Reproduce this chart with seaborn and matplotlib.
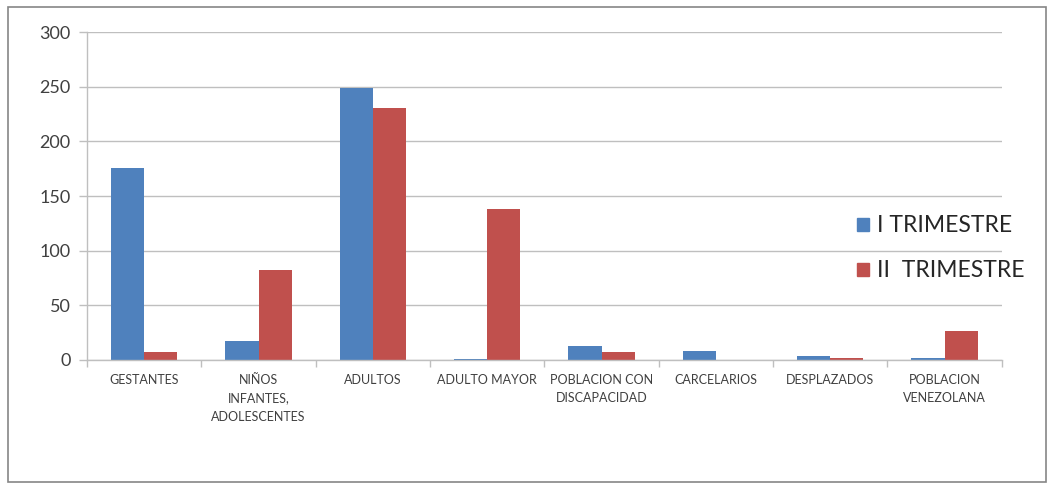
import pandas as pd
import seaborn as sns
import matplotlib.pyplot as plt
from matplotlib.patches import Rectangle

# Chart data
categories = ['GESTANTES', 'NIÑOS\nINFANTES,\nADOLESCENTES', 'ADULTOS', 'ADULTO MAYOR',
              'POBLACION CON\nDISCAPACIDAD', 'CARCELARIOS', 'DESPLAZADOS',
              'POBLACION\nVENEZOLANA']
trimestre_1 = [176, 17, 249, 1, 13, 8, 4, 2]
trimestre_2 = [7, 82, 231, 138, 7, 0, 2, 26]
series_names = ['I TRIMESTRE', 'II  TRIMESTRE']
y_ticks = [0, 50, 100, 150, 200, 250, 300]

df = pd.DataFrame({
    'categoria': categories * 2,
    'valor': trimestre_1 + trimestre_2,
    'serie': [series_names[0]] * len(categories) + [series_names[1]] * len(categories),
})

sns.set_style('white')
plt.rcParams['font.family'] = ['Lato', 'DejaVu Sans']

fig = plt.figure(figsize=(10.5, 4.87), dpi=100)
ax = fig.add_axes([0.083, 0.261, 0.871, 0.673])

# Outer chart border
fig.patches.append(Rectangle((0.008, 0.01), 0.988, 0.975, transform=fig.transFigure,
                             fill=False, edgecolor='#868686', linewidth=1.2))

sns.barplot(data=df, x='categoria', y='valor', hue='serie',
            palette=['#4F81BD', '#C0504D'], width=0.58, saturation=1,
            linewidth=0, ax=ax, legend=False)

ax.set_ylim(0, 300)
ax.set_xlim(-0.5, len(categories) - 0.5)
ax.set_yticks(y_ticks)
ax.set_yticklabels([str(v) for v in y_ticks], fontsize=13, color='#404040')
ax.yaxis.grid(True, color='#BFBFBF', linewidth=1)
ax.set_axisbelow(True)

ax.set_xticks(range(len(categories)))
ax.set_xticklabels(categories, fontsize=9, color='#404040', linespacing=1.65, va='top')
ax.tick_params(axis='x', length=0, pad=10)
ax.tick_params(axis='y', length=6, color='#BFBFBF', left=True, width=1, pad=6)
# Category boundary tick marks
ax.set_xticks([i - 0.5 for i in range(len(categories) + 1)], minor=True)
ax.tick_params(axis='x', which='minor', length=5, color='#BFBFBF', bottom=True, width=1)

ax.set_xlabel('')
ax.set_ylabel('')
for side in ['top', 'right']:
    ax.spines[side].set_visible(False)
for side in ['left', 'bottom']:
    ax.spines[side].set_color('#BFBFBF')
    ax.spines[side].set_linewidth(1)

handles = [Rectangle((0, 0), 1, 1, color=c) for c in ['#4F81BD', '#C0504D']]
fig.legend(handles, series_names, loc='upper left', bbox_to_anchor=(0.797, 0.6),
           frameon=False, fontsize=16.5, handlelength=0.5, handleheight=0.5,
           handletextpad=0.35, labelspacing=1.05, labelcolor='#262626')

fig.savefig('out.png', dpi=100)
